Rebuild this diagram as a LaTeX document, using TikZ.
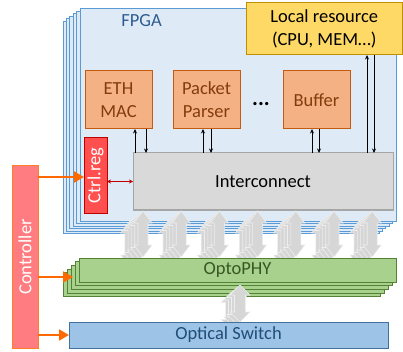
\documentclass[tikz,border=0pt]{standalone}
\usepackage{fontspec}
\setmainfont{Carlito}
\usetikzlibrary{arrows.meta,calc}
\definecolor{fpgafill}{HTML}{DEEBF7}
\definecolor{fpgaline}{HTML}{5B9BD5}
\definecolor{fpgatext}{HTML}{2F5C8F}
\definecolor{orfill}{HTML}{F4B183}
\definecolor{orline}{HTML}{C55A11}
\definecolor{ortext}{HTML}{843C0C}
\definecolor{locfill}{HTML}{FFD966}
\definecolor{locline}{HTML}{BF9000}
\definecolor{icfill}{HTML}{D9D9D9}
\definecolor{icline}{HTML}{A6A6A6}
\definecolor{regfill}{HTML}{FF4F4F}
\definecolor{regline}{HTML}{C00000}
\definecolor{ctlfill}{HTML}{FF7C80}
\definecolor{ctlline}{HTML}{FF7F27}
\definecolor{orarrow}{HTML}{FF6A00}
\definecolor{phyfill}{HTML}{A9D18E}
\definecolor{phyline}{HTML}{548235}
\definecolor{phytext}{HTML}{385723}
\definecolor{swfill}{HTML}{9DC3E6}
\definecolor{swline}{HTML}{41719C}
\definecolor{swtext}{HTML}{1F4E79}
\definecolor{garfill}{HTML}{D6D6D6}
\definecolor{garline}{HTML}{EEEEEE}
\newcommand\gdarr[6]{%
  \filldraw[garrow] (#1,#2) -- ({#1+#4},{#2+#6}) -- ({#1+#5},{#2+#6}) -- ({#1+#5},{#3-#6}) -- ({#1+#4},{#3-#6}) -- (#1,#3) -- ({#1-#4},{#3-#6}) -- ({#1-#5},{#3-#6}) -- ({#1-#5},{#2+#6}) -- ({#1-#4},{#2+#6}) -- cycle;}
\tikzset{
  layer/.style={rectangle, draw, inner sep=0pt, outer sep=0pt, line width=1pt},
  fpgal/.style={layer, draw=fpgaline, fill=fpgafill, minimum width=316pt, minimum height=212pt},
  orbox/.style={layer, draw=orline, fill=orfill, text=ortext, align=center, minimum width=67pt, minimum height=58pt},
  locbox/.style={layer, draw=locline, fill=locfill, align=center, minimum width=156.5pt, minimum height=52pt},
  icbox/.style={layer, draw=icline, fill=icfill, minimum width=260pt, minimum height=57pt},
  regbox/.style={layer, draw=regline, fill=regfill, minimum width=23pt, minimum height=75pt},
  ctlbox/.style={layer, draw=ctlline, fill=ctlfill, minimum width=26pt, minimum height=182pt},
  phyl/.style={layer, draw=phyline, fill=phyfill, minimum width=317pt, minimum height=24pt},
  swbox/.style={layer, draw=swline, fill=swfill, text=swtext, minimum width=319pt, minimum height=26pt},
  garrow/.style={fill=garfill, draw=garline, line width=0.6pt, line join=miter},
  blk/.style={draw=black, line width=0.8pt, -{Stealth[length=4.5pt,width=4pt]}},
  regarr/.style={draw=regline, line width=0.7pt, {Stealth[length=4pt,width=4pt]}-{Stealth[length=4pt,width=4pt]}},
  orarr/.style={draw=orarrow, line width=2pt, -{Triangle[length=10pt,width=11pt]}},
}
\begin{document}
\begin{tikzpicture}[x=1pt,y=-1pt,font=\fontsize{18.5}{23}\selectfont]
\useasboundingbox (0,0) rectangle (403,352);
% FPGA stack
\foreach \k in {5,4,3,2,1} { \node[fpgal] (fpga\k) at ({238-3.4*\k},{115+2.5*\k}) {}; }
\node[fpgal] (fpga) at (238,115) {};
\node[text=fpgatext] (fpgalbl) at (141.5,21) {FPGA};
% local resource
\node[locbox] (loc) at (324.25,29) {Local resource\\(CPU, MEM…)};
% blocks
\node[orbox] (eth) at (118.5,100) {ETH\\MAC};
\node[orbox] (pp) at (206.5,100) {Packet\\Parser};
\node[orbox] (buf) at (316.5,100) {Buffer};
\node[inner sep=0pt, font=\fontsize{22}{22}\selectfont\bfseries] (dots) at (261,104.5) {...};
\node[icbox] (ic) at (263,181.5) {Interconnect};
\node[regbox] (reg) at (95.5,175.5) {};
\node[rotate=90, text=white] (reglbl) at (reg.center) {Ctrl.reg};
% black arrows
\draw[blk] (ic.north -| 135,0) -- (eth.south -| 135,0);
\draw[blk] (eth.south -| 146,0) -- (ic.north -| 146,0);
\draw[blk] (ic.north -| 203,0) -- (pp.south -| 203,0);
\draw[blk] (pp.south -| 211,0) -- (ic.north -| 211,0);
\draw[blk] (ic.north -| 312,0) -- (buf.south -| 312,0);
\draw[blk] (buf.south -| 319,0) -- (ic.north -| 319,0);
\draw[blk] (ic.north -| 367,0) -- (loc.south -| 367,0);
\draw[blk] (loc.south -| 374,0) -- (ic.north -| 374,0);
\draw[regarr] (reg.east |- ic.center) -- (ic.west);
% gray arrows
\foreach \k in {4,3,2,1} { \foreach \i in {0,...,6} { \gdarr{143+38.2*\i-3.3*\k}{211+2.5*\k}{257+2.5*\k}{9}{5}{12} } }
\foreach \i in {0,...,6} { \gdarr{143+38.2*\i}{211}{257}{9}{5}{12} }
% OptoPHY stack
\foreach \k in {4,3,2,1} { \node[phyl] (phy\k) at ({237.5-4*\k},{270+3.7*\k}) {}; }
\node[phyl, text=phytext] (phy) at (237.5,270) {OptoPHY};
% switch arrow
\foreach \k in {3,2,1} { \gdarr{240-3*\k}{285+2.5*\k}{322+2.5*\k}{10}{5.5}{10} }
\gdarr{240}{285}{322}{10}{5.5}{10}
\node[swbox] (sw) at (228.5,335) {Optical Switch};
% controller
\node[ctlbox] (ctl) at (25,257) {};
\node[rotate=90, text=white] (ctllbl) at (ctl.center) {Controller};
\coordinate (phyin) at (73,277);
\draw[orarr] (ctl.east |- 0,177) -- (reg.west |- 0,177);
\draw[orarr] (ctl.east |- phyin) -- (phyin);
\draw[orarr] (ctl.east |- sw.west) -- (sw.west);
\end{tikzpicture}
\end{document}
